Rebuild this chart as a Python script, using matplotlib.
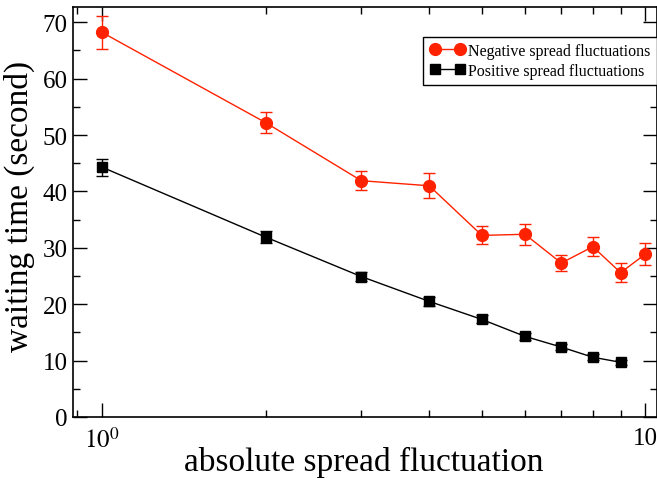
import matplotlib
matplotlib.use('Agg')
import matplotlib.pyplot as plt

plt.rcParams['font.family'] = ['Liberation Serif', 'DejaVu Serif']
plt.rcParams['mathtext.fontset'] = 'stix'

# data
spread = [1, 2, 3, 4, 5, 6, 7, 8, 9, 10]
neg_wait = [68.2, 52.2, 41.9, 41.0, 32.2, 32.4, 27.3, 30.2, 25.6, 28.9]
neg_err = [2.9, 1.9, 1.7, 2.2, 1.6, 1.9, 1.5, 1.7, 1.7, 2.0]
pos_spread = [1, 2, 3, 4, 5, 6, 7, 8, 9]
pos_wait = [44.3, 31.9, 24.9, 20.5, 17.3, 14.3, 12.4, 10.6, 9.7]
pos_err = [1.5, 1.0, 0.8, 0.8, 0.7, 0.6, 0.6, 0.5, 0.4]

red = '#ff2200'

fig = plt.figure(figsize=(6.57, 4.81), dpi=100)
ax = fig.add_axes([73 / 657, 63 / 481, 584 / 657, 410 / 481])

ax.errorbar(spread, neg_wait, yerr=neg_err, color=red, marker='o', markersize=8.5,
            linewidth=1.0, elinewidth=1.0, capsize=4.3, capthick=1.0,
            label='Negative spread fluctuations')
ax.errorbar(pos_spread, pos_wait, yerr=pos_err, color='black', marker='s', markersize=6.5,
            linewidth=1.0, elinewidth=1.0, capsize=4.3, capthick=1.0,
            label='Positive spread fluctuations')

ax.set_xscale('log')
ax.set_xlim(0.8843, 10.50)
ax.set_ylim(0, 72.7)

ax.set_xticks([1, 10])
ax.set_xticklabels(['$10^0$', '10'])
ax.set_xticks([0.9, 2, 3, 4, 5, 6, 7, 8, 9], minor=True)
ax.set_xticklabels([], minor=True)
ax.set_yticks(range(0, 71, 10))
ax.set_yticks(range(5, 71, 10), minor=True)

ax.tick_params(which='both', direction='in', top=True, right=True, labelsize=18, width=1)
ax.tick_params(which='major', length=10)
ax.tick_params(which='minor', length=5)
ax.tick_params(axis='x', pad=7)
ax.tick_params(axis='y', pad=4)
for s in ax.spines.values():
    s.set_linewidth(1.2)

ax.set_xlabel('absolute spread fluctuation', fontsize=24, va='baseline')
ax.xaxis.set_label_coords(0.498, -0.13)
ax.set_ylabel('waiting time (second)', fontsize=24, va='center')
ax.yaxis.set_label_coords(-0.092, 0.517)

handles, labels = ax.get_legend_handles_labels()
handles = [h[0] for h in handles]
leg = ax.legend(handles, labels, loc='upper left', bbox_to_anchor=(0.6, 0.928),
                fontsize=11.5, numpoints=2, fancybox=False, edgecolor='black',
                framealpha=1, handlelength=2.2, handletextpad=0.2, borderpad=0.4,
                labelspacing=0.25, borderaxespad=0)
leg.get_frame().set_linewidth(1.0)

fig.savefig('out.png', dpi=100)
